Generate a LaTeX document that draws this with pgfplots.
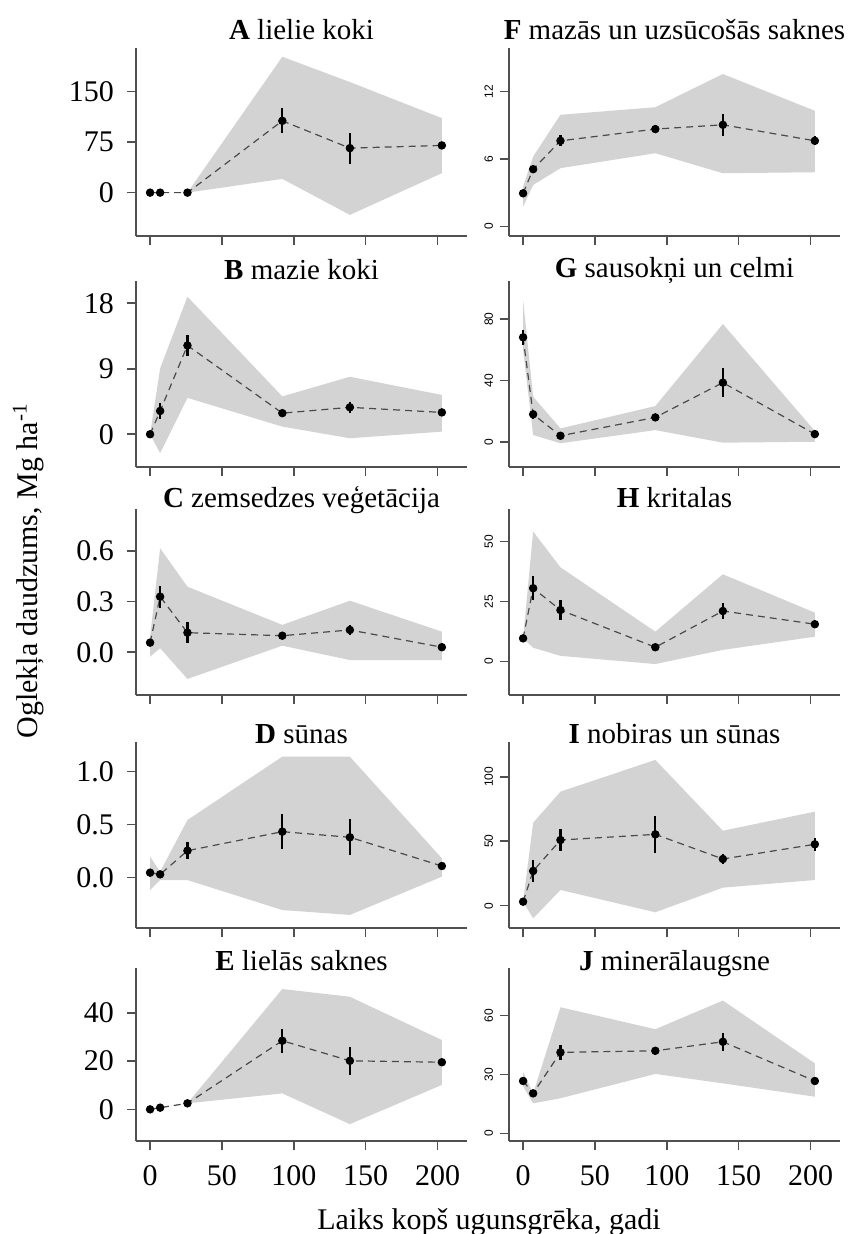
\documentclass[border=0pt]{standalone}
\usepackage{fontspec}
\setmainfont{Liberation Serif}
\newfontfamily\rsans{Liberation Sans}
\usepackage{pgfplots}
\usepackage{pgfplotstable}
\pgfplotsset{compat=1.18}
\usepgfplotslibrary{fillbetween}
\definecolor{band}{HTML}{D3D3D3}
\definecolor{axc}{HTML}{505050}
\definecolor{dashc}{HTML}{4A4A4A}

\pgfplotstableread{
x y e u l
0 0 0 0 0
7 0 0 0 0
26 0 0 0 0
92 106.5 18.5 201.5 20.4
139 66 23 164 -33
203 70 3 110.5 28.8
}\tA
\pgfplotstableread{
x y e u l
0 0 0 0 0
7 3.2 1.15 9.07 -2.6
26 12.2 1.5 18.9 5.0
92 2.9 0.3 5.2 1.05
139 3.7 0.8 7.9 -0.55
203 3.0 0.2 5.4 0.36
}\tB
\pgfplotstableread{
x y e u l
0 0.057 0.01 0.092 -0.026
7 0.329 0.065 0.615 0.024
26 0.116 0.064 0.388 -0.158
92 0.098 0.015 0.162 0.039
139 0.132 0.03 0.305 -0.046
203 0.030 0.01 0.122 -0.046
}\tC
\pgfplotstableread{
x y e u l
0 0.044 0.01 0.195 -0.12
7 0.028 0.01 0.053 -0.026
26 0.252 0.08 0.543 -0.026
92 0.432 0.165 1.142 -0.31
139 0.379 0.17 1.142 -0.356
203 0.107 0.01 0.18 0.006
}\tD
\pgfplotstableread{
x y e u l
0 0 0 0 0
7 0.7 0 0.7 0.7
26 2.5 0.5 2.5 2.5
92 28.4 5 49.8 6.6
139 20.1 5.8 46.6 -6.1
203 19.5 0.5 28.7 10.1
}\tE
\pgfplotstableread{
x y e u l
0 2.96 0.2 3.56 1.78
7 5.1 0.2 6.22 3.7
26 7.62 0.5 9.93 5.19
92 8.66 0.3 10.6 6.52
139 9.04 1.0 13.55 4.74
203 7.62 0.4 10.28 4.83
}\tF
\pgfplotstableread{
x y e u l
0 68.2 5 92.6 60
7 17.9 3 29.4 4.4
26 3.9 0.5 8.7 -1
92 15.9 0.5 23.3 7.6
139 38.6 9.3 76.9 -0.6
203 5.0 0.5 7 0
}\tG
\pgfplotstableread{
x y e u l
0 9.7 0.5 9.7 9.7
7 30.6 4.9 54.2 5.8
26 21.5 4.2 39.3 2.4
92 6.0 0.5 12.5 -1
139 21.1 3.5 36.4 4.9
203 15.6 0.5 20.4 10.4
}\tH
\pgfplotstableread{
x y e u l
0 3.1 0.5 3.1 3.1
7 26.9 8.4 64.3 -9.8
26 50.9 8.4 88.4 12.2
92 55.3 14.2 113 -5.1
139 36.2 4 58.1 14
203 47.6 5 72.9 19.9
}\tI
\pgfplotstableread{
x y e u l
0 26.7 0.5 31.4 24
7 20.4 0.5 20.4 15.3
26 41.3 4 64.3 17.9
92 42.1 2 53.1 30.3
139 46.7 4.6 67.7 25.5
203 26.7 0.5 35.7 18.7
}\tJ

\pgfplotsset{
  panel/.style={
    scale only axis, width=165.5pt, anchor=south west,
    axis x line*=bottom, axis y line*=left,
    axis line style={axc, line width=0.8pt, -},
    tick style={axc, line width=0.8pt},
    tick align=outside, major tick length=4.5pt,
    xmin=-9.8, xmax=220.5,
    xtick={0,50,100,150,200},
    xticklabels={},
    /pgf/number format/assume math mode=true,
  },
  leftp/.style={panel, yticklabel style={font=\fontsize{15}{15}\selectfont, xshift=-3pt}},
  rightp/.style={panel, yticklabel style={font=\rsans\fontsize{6}{6}\selectfont, rotate=90, anchor=south}},
  bottomx/.style={xticklabels={0,50,100,150,200}, xticklabel style={font=\fontsize{15}{15}\selectfont, yshift=-4pt}},
}

\newcommand\drawpanel[1]{%
  \addplot[draw=none, name path=up, forget plot] table[x=x,y=u]{#1};
  \addplot[draw=none, name path=lo, forget plot] table[x=x,y=l]{#1};
  \addplot[band, draw=none] fill between[of=up and lo];
  \addplot[dashc, line width=0.6pt, dash pattern=on 3.5pt off 2.5pt] table[x=x,y=y]{#1};
  \addplot[only marks, mark=*, mark size=1.9pt, black,
    error bars/.cd, y dir=both, y explicit, error mark=none,
    error bar style={line width=1.1pt, black}] table[x=x,y=y,y error=e]{#1};
}

\begin{document}
\begin{tikzpicture}
% Left column
\begin{axis}[leftp, at={(68pt,-118pt)}, height=94pt, ymin=-64.3, ymax=214.5, ytick={0,75,150}]
\drawpanel{\tA}
\end{axis}
\begin{axis}[leftp, at={(68pt,-233.5pt)}, height=93pt, ymin=-4.5, ymax=21.06, ytick={0,9,18}]
\drawpanel{\tB}
\end{axis}
\begin{axis}[leftp, at={(68pt,-347.5pt)}, height=93pt, ymin=-0.253, ymax=0.848, ytick={0,0.3,0.6}, yticklabels={0.0,0.3,0.6}]
\drawpanel{\tC}
\end{axis}
\begin{axis}[leftp, at={(68pt,-464pt)}, height=93pt, ymin=-0.48, ymax=1.281, ytick={0,0.5,1}, yticklabels={0.0,0.5,1.0}]
\drawpanel{\tD}
\end{axis}
\begin{axis}[leftp, bottomx, at={(68pt,-570.5pt)}, height=86.5pt, ymin=-13.1, ymax=58.5, ytick={0,20,40}]
\drawpanel{\tE}
\end{axis}
% Right column
\begin{axis}[rightp, at={(254.5pt,-118pt)}, height=94pt, ymin=-0.83, ymax=15.86, ytick={0,6,12}]
\drawpanel{\tF}
\end{axis}
\begin{axis}[rightp, at={(254.5pt,-233.5pt)}, height=93pt, ymin=-16.5, ymax=105, ytick={0,40,80}]
\drawpanel{\tG}
\end{axis}
\begin{axis}[rightp, at={(254.5pt,-347.5pt)}, height=93pt, ymin=-13.9, ymax=63.6, ytick={0,25,50}]
\drawpanel{\tH}
\end{axis}
\begin{axis}[rightp, at={(254.5pt,-464pt)}, height=93pt, ymin=-17.3, ymax=126.9, ytick={0,50,100}]
\drawpanel{\tI}
\end{axis}
\begin{axis}[rightp, bottomx, at={(254.5pt,-570.5pt)}, height=86.5pt, ymin=-3.9, ymax=84.3, ytick={0,30,60}]
\drawpanel{\tJ}
\end{axis}
% Titles
\begin{scope}[every node/.style={anchor=base, inner sep=0pt, font=\fontsize{14.5}{14.5}\selectfont}]
\node at (150.75pt,-20pt) {\textbf{A} lielie koki};
\node at (150.75pt,-140pt) {\textbf{B} mazie koki};
\node at (150.75pt,-253.75pt) {\textbf{C} zemsedzes veģetācija};
\node at (150.75pt,-371.5pt) {\textbf{D} sūnas};
\node at (150.75pt,-485.25pt) {\textbf{E} lielās saknes};
\node at (337.25pt,-20pt) {\textbf{F} mazās un uzsūcošās saknes};
\node at (337.25pt,-139pt) {\textbf{G} sausokņi un celmi};
\node at (337.25pt,-253.75pt) {\textbf{H} kritalas};
\node at (337.25pt,-371.5pt) {\textbf{I} nobiras un sūnas};
\node at (337.25pt,-485.25pt) {\textbf{J} minerālaugsne};
\end{scope}
\node[anchor=base, inner sep=0pt, rotate=90, font=\fontsize{15}{15}\selectfont] at (18.5pt,-285.5pt) {Oglekļa daudzums, Mg ha\textsuperscript{-1}};
\node[anchor=base, inner sep=0pt, font=\fontsize{15}{15}\selectfont] at (244.5pt,-614.5pt) {Laiks kopš ugunsgrēka, gadi};
\pgfresetboundingbox
\path[use as bounding box] (0,0) rectangle (429pt,-617pt);
\end{tikzpicture}
\end{document}
